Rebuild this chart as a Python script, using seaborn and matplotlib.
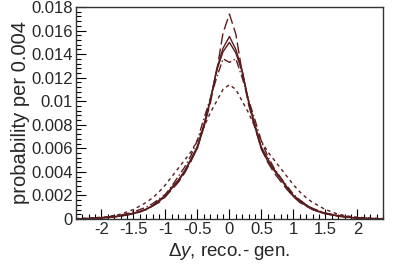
import numpy as np
import pandas as pd
import seaborn as sns
from matplotlib import pyplot as plt
from matplotlib.ticker import FixedLocator, MultipleLocator

# delta y grid (bin centres, step 0.1)
dy = [round(-2.4 + 0.1 * i, 1) for i in range(49)]

solid_a = [0.00001, 0.00002, 0.00003, 0.00005, 0.00008, 0.00012, 0.00018, 0.00025, 0.00035, 0.00046,
           0.0006, 0.0008, 0.0011, 0.0015, 0.0019, 0.0026, 0.0032, 0.0040, 0.0050, 0.0060,
           0.0078, 0.0100, 0.0127, 0.0145, 0.0155, 0.0144, 0.0126, 0.0099, 0.0078, 0.0059,
           0.0049, 0.0041, 0.0034, 0.0026, 0.0019, 0.0015, 0.0011, 0.0008, 0.0006, 0.00045,
           0.00034, 0.00025, 0.00018, 0.00012, 0.00008, 0.00005, 0.00003, 0.00002, 0.00001]
solid_b = [0.00001, 0.00002, 0.00004, 0.00006, 0.00009, 0.00013, 0.0002, 0.00028, 0.00038, 0.0005,
           0.00065, 0.00085, 0.00115, 0.0016, 0.0020, 0.0027, 0.0033, 0.0041, 0.0051, 0.0062,
           0.0080, 0.0101, 0.0126, 0.0142, 0.0150, 0.0141, 0.0125, 0.0100, 0.0080, 0.0061,
           0.0051, 0.0042, 0.0035, 0.0027, 0.0020, 0.0016, 0.0012, 0.00085, 0.00065, 0.0005,
           0.00037, 0.00027, 0.0002, 0.00013, 0.00009, 0.00006, 0.00004, 0.00002, 0.00001]
long_dash = [0.00001, 0.00002, 0.00003, 0.00005, 0.00008, 0.00012, 0.00017, 0.00024, 0.00033, 0.00044,
             0.0006, 0.0008, 0.0011, 0.0014, 0.0019, 0.0025, 0.0031, 0.0039, 0.0049, 0.0061,
             0.0078, 0.0098, 0.0125, 0.0158, 0.0174, 0.0157, 0.0124, 0.0097, 0.0077, 0.0060,
             0.0048, 0.0039, 0.0032, 0.0025, 0.0019, 0.0014, 0.0011, 0.0008, 0.0006, 0.00044,
             0.00033, 0.00024, 0.00017, 0.00012, 0.00008, 0.00005, 0.00003, 0.00002, 0.00001]
dash_dot = [0.00002, 0.00003, 0.00005, 0.00008, 0.00012, 0.00017, 0.00024, 0.00033, 0.00045, 0.0006,
            0.0008, 0.0010, 0.0013, 0.0017, 0.0021, 0.0028, 0.0036, 0.0044, 0.0054, 0.0067,
            0.0085, 0.0102, 0.0120, 0.0136, 0.0133, 0.0136, 0.0120, 0.0101, 0.0084, 0.0066,
            0.0053, 0.0043, 0.0035, 0.0028, 0.0021, 0.0016, 0.0012, 0.0009, 0.0007, 0.0005,
            0.0004, 0.0003, 0.00022, 0.00015, 0.0001, 0.00007, 0.00005, 0.00003, 0.00002]
short_dash = [0.00004, 0.00006, 0.00008, 0.00011, 0.00015, 0.0002, 0.0003, 0.0004, 0.0006, 0.0008,
              0.0011, 0.0014, 0.0018, 0.0023, 0.0029, 0.0036, 0.0043, 0.0050, 0.0057, 0.0067,
              0.0078, 0.0090, 0.0100, 0.0110, 0.0114, 0.0110, 0.0100, 0.0090, 0.0078, 0.0066,
              0.0057, 0.0050, 0.0043, 0.0036, 0.0029, 0.0023, 0.0018, 0.0014, 0.0011, 0.0008,
              0.0006, 0.0004, 0.0003, 0.0002, 0.00015, 0.00011, 0.00008, 0.00006, 0.00004]

series = {'solid a': solid_a, 'solid b': solid_b, 'long dash': long_dash,
          'dash dot': dash_dot, 'short dash': short_dash}
styles = {'solid a': '', 'solid b': '', 'long dash': (8, 3),
          'dash dot': (6, 2, 1, 2), 'short dash': (2.5, 2.5)}

df = pd.concat([pd.DataFrame({'dy': dy, 'prob': v, 'curve': k}) for k, v in series.items()])

sns.set_style('ticks')
plt.rcParams['font.family'] = ['Liberation Sans', 'DejaVu Sans']
plt.rcParams['mathtext.fontset'] = 'custom'
plt.rcParams['mathtext.rm'] = 'Liberation Sans'
plt.rcParams['mathtext.it'] = 'Liberation Sans:italic'

fig = plt.figure(figsize=(3.99, 2.70), dpi=100)
ax = fig.add_axes([0.19, 0.189, 0.77, 0.785])

sns.lineplot(data=df, x='dy', y='prob', hue='curve', style='curve', dashes=styles,
             palette=['#5a1c1c'] * 5, linewidth=1.0, legend=False, ax=ax)

ax.set_xlim(-2.4, 2.4)
ax.set_ylim(0, 0.018)
ax.xaxis.set_major_locator(FixedLocator([-2, -1.5, -1, -0.5, 0, 0.5, 1, 1.5, 2]))
ax.xaxis.set_minor_locator(MultipleLocator(0.1))
yt = [0.002 * i for i in range(10)]
ax.yaxis.set_major_locator(FixedLocator(yt))
ax.yaxis.set_minor_locator(MultipleLocator(0.0004))
ax.set_xticklabels(['%g' % t for t in [-2, -1.5, -1, -0.5, 0, 0.5, 1, 1.5, 2]])
ax.set_yticklabels(['%g' % round(t, 3) for t in yt])
ax.tick_params(which='both', direction='in', labelsize=12, color='black', width=0.8)
ax.tick_params(which='major', length=7, pad=2)
ax.tick_params(which='minor', length=3.5)
for s in ax.spines.values():
    s.set_linewidth(1.0)
    s.set_color('#333333')

ax.set_xlabel(r'$\Delta\mathit{y}$, reco.- gen.', fontsize=13.5, labelpad=3)
ax.set_ylabel('probability per 0.004', fontsize=14.5, labelpad=1)

plt.savefig('out.png', dpi=100)
